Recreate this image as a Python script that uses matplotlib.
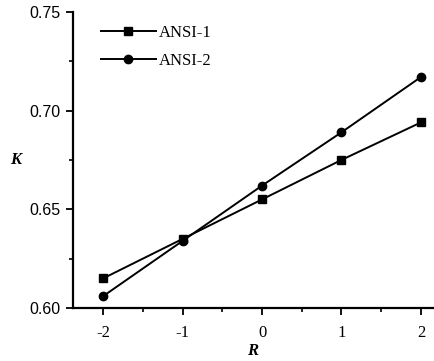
import matplotlib
matplotlib.use('Agg')
import matplotlib.pyplot as plt
from matplotlib.ticker import MultipleLocator

# data
r_values = [-2, -1, 0, 1, 2]
ansi1 = [0.615, 0.635, 0.655, 0.675, 0.694]
ansi2 = [0.606, 0.634, 0.662, 0.689, 0.717]
series_names = ['ANSI-1', 'ANSI-2']
y_ticks = [0.60, 0.65, 0.70, 0.75]
y_tick_labels = ['0.60', '0.65', '0.70', '0.75']

plt.rcParams['font.family'] = ['Liberation Serif', 'DejaVu Serif']
plt.rcParams['axes.unicode_minus'] = False

fig = plt.figure(figsize=(4.35, 3.61), dpi=100)
ax = fig.add_axes([0.168, 0.147, 0.827, 0.820])

ax.plot(r_values, ansi1, color='black', lw=1.4, marker='s', ms=6, label=series_names[0])
ax.plot(r_values, ansi2, color='black', lw=1.4, marker='o', ms=6, label=series_names[1])

ax.set_xlim(-2.38, 2.15)
ax.set_ylim(0.60, 0.75)
ax.xaxis.set_major_locator(MultipleLocator(1))
ax.xaxis.set_minor_locator(MultipleLocator(0.5))
ax.yaxis.set_minor_locator(MultipleLocator(0.025))
ax.set_yticks(y_ticks)
ax.set_yticklabels(y_tick_labels, family='Liberation Sans', fontsize=11.5)
for lbl in ax.get_xticklabels():
    lbl.set_fontsize(12)

ax.spines['top'].set_visible(False)
ax.spines['right'].set_visible(False)
ax.spines['left'].set_linewidth(1.6)
ax.spines['bottom'].set_linewidth(1.6)
ax.tick_params(which='major', direction='out', length=5, width=1.3, pad=4)
ax.tick_params(axis='x', which='major', pad=7)
ax.tick_params(which='minor', direction='out', length=3, width=1.2)

ax.set_xlabel('R', fontsize=12, fontstyle='italic', fontweight='bold', labelpad=2)
ax.set_ylabel('K', fontsize=12, fontstyle='italic', fontweight='bold', rotation=0, labelpad=10, va='center')

ax.legend(loc='upper left', bbox_to_anchor=(0.045, 0.995), frameon=False, fontsize=12,
          handlelength=3.3, handletextpad=0.2, labelspacing=0.7, borderaxespad=0.3)

fig.savefig('out.png', dpi=100)
